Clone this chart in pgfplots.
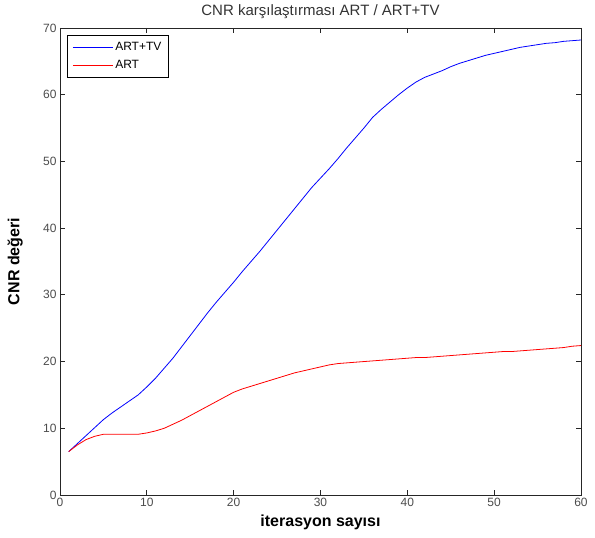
\documentclass[border=0pt]{standalone}
\usepackage{pgfplots}
\pgfplotsset{compat=1.18}
\usepackage{fontspec}
\setmainfont{Liberation Sans}

% CNR values (iterations 1..60)
\begin{document}
\begin{tikzpicture}
\begin{axis}[
    scale only axis,
    width=521pt, height=467pt,
    xmin=0, xmax=60, ymin=0, ymax=70,
    xtick={0,10,...,60}, ytick={0,10,...,70},
    tick align=inside,
    major tick length=5pt,
    axis line style={line width=0.9pt, black!85},
    every tick/.style={black!85, line width=0.9pt},
    tick label style={font=\fontsize{12}{14}\selectfont, text=black!70},
    /pgf/number format/assume math mode=true,
    title={CNR karşılaştırması ART / ART+TV},
    every axis title/.style={font=\fontsize{15}{17}\selectfont, text=black!80, at={(axis description cs:0.5,1.034)}, anchor=center},
    xlabel={iterasyon sayısı},
    ylabel={CNR değeri},
    xlabel style={font=\bfseries\fontsize{16}{18}\selectfont, at={(axis description cs:0.5,-0.058)}, anchor=center},
    ylabel style={font=\bfseries\fontsize{16}{18}\selectfont, at={(axis description cs:-0.086,0.5)}, anchor=center, rotate=0},
    legend style={
        at={(axis description cs:0.0134,0.985)}, anchor=north west,
        draw=black, line width=0.8pt, font=\fontsize{12}{14}\selectfont,
        row sep=4pt, inner xsep=5pt, inner ysep=5pt,
        /tikz/every even column/.append style={column sep=1pt}},
    legend cell align=left,
    legend image code/.code={\draw[#1, line width=0.9pt] (0pt,0pt) -- (40pt,0pt);},
]
\coordinate (sw) at (rel axis cs:0,0);
\coordinate (ne) at (rel axis cs:1,1);
\addplot[blue, line width=0.8pt] coordinates {
(1,6.5) (2,7.7) (3,8.9) (4,10.1) (5,11.3) (6,12.3) (7,13.2) (8,14.1) (9,15.0) (10,16.2)
(11,17.5) (12,19.0) (13,20.5) (14,22.2) (15,23.9) (16,25.6) (17,27.3) (18,28.9) (19,30.4) (20,31.9)
(21,33.5) (22,35.0) (23,36.5) (24,38.1) (25,39.7) (26,41.3) (27,42.9) (28,44.5) (29,46.1) (30,47.5)
(31,48.9) (32,50.4) (33,52.0) (34,53.5) (35,55.0) (36,56.6) (37,57.8) (38,58.9) (39,60.0) (40,61.0)
(41,61.9) (42,62.6) (43,63.1) (44,63.6) (45,64.2) (46,64.7) (47,65.1) (48,65.5) (49,65.9) (50,66.2)
(51,66.5) (52,66.8) (53,67.1) (54,67.3) (55,67.5) (56,67.7) (57,67.8) (58,68.0) (59,68.1) (60,68.2)
};
\addlegendentry{ART+TV}
\addplot[red, line width=0.8pt] coordinates {
(1,6.5) (2,7.5) (3,8.3) (4,8.8) (5,9.1) (6,9.1) (7,9.1) (8,9.1) (9,9.1) (10,9.3)
(11,9.6) (12,10.0) (13,10.6) (14,11.2) (15,11.9) (16,12.6) (17,13.3) (18,14.0) (19,14.7) (20,15.4)
(21,15.9) (22,16.3) (23,16.7) (24,17.1) (25,17.5) (26,17.9) (27,18.3) (28,18.6) (29,18.9) (30,19.2)
(31,19.5) (32,19.7) (33,19.8) (34,19.9) (35,20.0) (36,20.1) (37,20.2) (38,20.3) (39,20.4) (40,20.5)
(41,20.6) (42,20.6) (43,20.7) (44,20.8) (45,20.9) (46,21.0) (47,21.1) (48,21.2) (49,21.3) (50,21.4)
(51,21.5) (52,21.5) (53,21.6) (54,21.7) (55,21.8) (56,21.9) (57,22.0) (58,22.1) (59,22.3) (60,22.4)
};
\addlegendentry{ART}
\end{axis}
\pgfresetboundingbox
\path ([xshift=-60pt,yshift=-43pt]sw) rectangle ([xshift=14pt,yshift=28pt]ne);
\end{tikzpicture}
\end{document}
